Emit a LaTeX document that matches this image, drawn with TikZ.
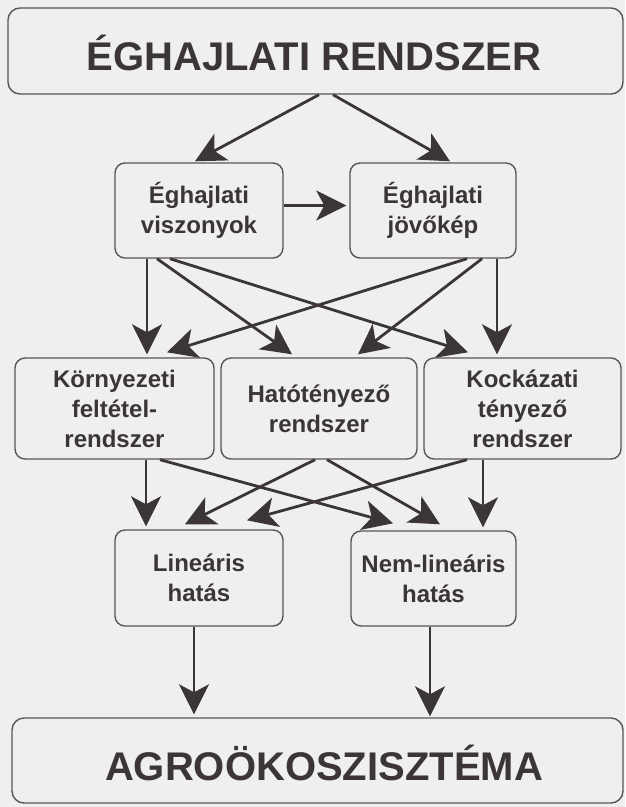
\documentclass[tikz,border=0pt]{standalone}
\usepackage{fontspec}
\setmainfont{Liberation Sans}
\usetikzlibrary{arrows.meta}
\definecolor{bgcol}{HTML}{EFEFEF}
\definecolor{ink}{HTML}{3B3536}
\definecolor{boxline}{HTML}{5C5455}
\begin{document}
\begin{tikzpicture}[x=1pt,y=-1pt,
  box/.style={draw=boxline, line width=1.4pt, rounded corners=10pt, align=center, text=ink,
    font=\fontsize{24}{30}\selectfont\bfseries, inner sep=0pt},
  bigbox/.style={draw=boxline, line width=1.4pt, rounded corners=12pt, inner sep=0pt},
  bigtext/.style={text=ink, font=\fontsize{40}{48}\selectfont\bfseries, inner sep=0pt, anchor=base},
  arr/.style={draw=ink, line width=2.8pt, -{Stealth[length=30pt,width=30pt,inset=8pt]}}]
\useasboundingbox (0,0) rectangle (625,807);
\fill[bgcol] (0,0) rectangle (625,807);

% title boxes
\node[bigbox, minimum width=615pt, minimum height=86pt] (topbox) at (315.5,51) {};
\node[bigtext] (toptext) at (314,70) {ÉGHAJLATI RENDSZER};
\node[bigbox, minimum width=611pt, minimum height=85pt] (agrobox) at (317.5,760.5) {};
\node[bigtext] (agrotext) at (324,780) {AGROÖKOSZISZTÉMA};

% level 2
\node[box, minimum width=168pt, minimum height=95pt] (visz) at (199,210.5) {Éghajlati\\viszonyok};
\node[box, minimum width=166pt, minimum height=95pt] (jovo) at (433,210.5) {Éghajlati\\jövőkép};

% level 3
\node[box, minimum width=199pt, minimum height=101pt] (korny) at (114.5,408.5) {Környezeti\\feltétel-\\rendszer};
\node[box, minimum width=196pt, minimum height=101pt] (hato) at (319,408.5) {Hatótényező\\rendszer};
\node[box, minimum width=197pt, minimum height=101pt] (kock) at (522.5,408.5) {Kockázati\\tényező\\rendszer};

% level 4
\node[box, minimum width=168pt, minimum height=96pt] (lin) at (199,578) {Lineáris\\hatás};
\node[box, minimum width=165pt, minimum height=95pt] (nemlin) at (433.5,578.5) {Nem-lineáris\\hatás};

% arrows: top to level 2
\draw[arr] ([xshift=3.5pt]topbox.south) -- ([xshift=-4pt,yshift=1pt]visz.north);
\draw[arr] ([xshift=17.5pt]topbox.south) -- ([xshift=17pt,yshift=1pt]jovo.north);
\draw[arr] ([yshift=5pt]visz.east) -- ([xshift=-3pt,yshift=5pt]jovo.west);

% level 2 to level 3
\draw[arr] ([xshift=-52pt]visz.south) -- ([xshift=32.5pt,yshift=3pt]korny.north);
\draw[arr] ([xshift=-42pt]visz.south) -- ([xshift=-27pt,yshift=3pt]hato.north);
\draw[arr] ([xshift=-29pt]visz.south) -- ([xshift=-54.5pt,yshift=5pt]kock.north);
\draw[arr] ([xshift=34pt]jovo.south) -- ([xshift=52.5pt,yshift=5pt]korny.north);
\draw[arr] ([xshift=49pt]jovo.south) -- ([xshift=39pt,yshift=3pt]hato.north);
\draw[arr] ([xshift=64pt]jovo.south) -- ([xshift=-25.5pt,yshift=3pt]kock.north);

% level 3 to level 4
\draw[arr] ([xshift=31.5pt]korny.south) -- ([xshift=-53pt,yshift=3pt]lin.north);
\draw[arr] ([xshift=45.5pt]korny.south) -- ([xshift=-40.5pt,yshift=7pt]nemlin.north);
\draw[arr] ([xshift=-4pt]hato.south) -- ([xshift=-14pt,yshift=5pt]lin.north);
\draw[arr] ([xshift=8pt]hato.south) -- ([xshift=6.5pt,yshift=6pt]nemlin.north);
\draw[arr] ([xshift=-55.5pt]kock.south) -- ([xshift=48pt,yshift=9pt]lin.north);
\draw[arr] ([xshift=-39.5pt]kock.south) -- ([xshift=49.5pt,yshift=3pt]nemlin.north);

% level 4 to bottom
\draw[arr] ([xshift=-5pt]lin.south) -- ([xshift=-123.5pt,yshift=3pt]agrobox.north);
\draw[arr] ([xshift=-3.5pt]nemlin.south) -- ([xshift=112.5pt,yshift=1pt]agrobox.north);
\end{tikzpicture}
\end{document}
